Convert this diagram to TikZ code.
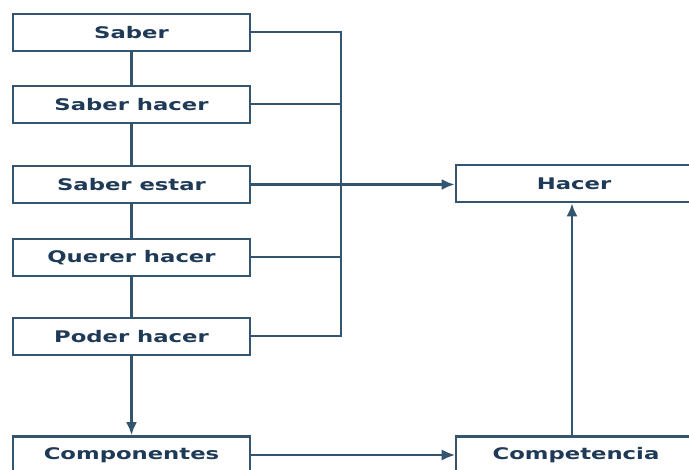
\documentclass[tikz,border=0pt]{standalone}
\usepackage{fontspec}
\setmainfont{DejaVu Sans}
\usetikzlibrary{arrows.meta}
\definecolor{edge}{HTML}{34556F}
\definecolor{ink}{HTML}{1F3A56}
\newcommand{\lbl}[1]{\scalebox{1.42}[1]{\bfseries #1}}
\tikzset{
  box/.style={draw=edge, line width=2.6pt, fill=white, minimum height=37pt,
              inner sep=0pt, text=ink, font=\fontsize{16}{18}\selectfont},
  link/.style={draw=edge, line width=2.8pt},
  buslink/.style={draw=edge, line width=2pt},
  thinlink/.style={draw=edge, line width=1.1pt},
  tip/.style={-{Latex[length=13pt,width=11pt]}},
}
\begin{document}
\begin{tikzpicture}[x=1pt,y=-1pt]
  \useasboundingbox (0,0) rectangle (689,470);
  \clip (0,0) rectangle (689,470);
  \fill[white] (0,0) rectangle (689,470);

  % left column of components
  \node[box, minimum width=237pt] (saber)   at (131.5,32.5)  {\lbl{Saber}};
  \node[box, minimum width=237pt] (shacer)  at (131.5,104.5) {\lbl{Saber hacer}};
  \node[box, minimum width=237pt] (sestar)  at (131.5,184.5) {\lbl{Saber estar}};
  \node[box, minimum width=237pt] (querer)  at (131.5,257.5) {\lbl{Querer hacer}};
  \node[box, minimum width=237pt] (poder)   at (131.5,336.5) {\lbl{Poder hacer}};
  \node[box, minimum width=237pt] (comp)    at (131.5,455)   {\lbl{Componentes}};

  % right column
  \node[box, minimum width=236pt] (hacer)   at (574,183.5)   {\lbl{Hacer}};
  \node[box, minimum width=240pt] (compet)  at (576,455)     {\lbl{Competencia}};

  % chain of components
  \draw[link] (saber) -- (shacer);
  \draw[link] (shacer) -- (sestar);
  \draw[link] (sestar) -- (querer);
  \draw[link] (querer) -- (poder);
  \draw[link, tip] (poder) -- (comp);

  % bracket collecting the components
  \coordinate (bus) at (341,0);
  \draw[buslink] (saber.east) -| (bus |- poder.east) -- (poder.east);
  \draw[buslink] (shacer.east) -- (bus |- shacer.east);
  \draw[buslink] (querer.east) -- (bus |- querer.east);
  \draw[link, tip] (sestar.east) -- (hacer.west |- sestar.east);

  % bottom row and upward arrow
  \draw[thinlink, tip] (comp.east) -- (compet.west);
  \draw[link, tip] (compet.north -| 572,0) -- (hacer.south -| 572,0);
\end{tikzpicture}
\end{document}
